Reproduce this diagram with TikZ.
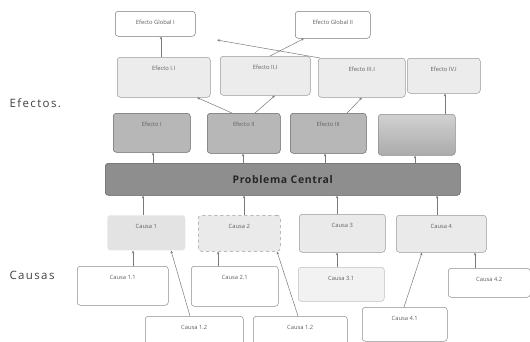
\documentclass[tikz,border=0pt]{standalone}
\usepackage{fontspec}
\setmainfont{Open Sans}
\newfontfamily\spacedfont[LetterSpace=12]{Open Sans}
\usetikzlibrary{arrows.meta,calc}
\definecolor{edgegray}{HTML}{7A7A7A}
\definecolor{txtgray}{HTML}{606060}
\definecolor{topfill}{HTML}{ECECEC}
\definecolor{darkfill}{HTML}{B7B7B7}
\definecolor{pcfill}{HTML}{8E8E8E}
\definecolor{causefill}{HTML}{EAEAEA}
\tikzset{
  box/.style args={#1/#2}{anchor=north west, minimum width=#1pt, minimum height=#2pt,
    inner sep=0pt, rounded corners=3pt, draw=edgegray, line width=0.5pt},
  lbl/.style={label={[anchor=north, yshift=-6pt, font=\fontsize{5.8}{6}\selectfont, text=txtgray]north:{#1}}},
  topbox/.style={fill=white},
  midbox/.style={fill=topfill, draw=gray!80},
  darkbox/.style={fill=darkfill, draw=black!60},
  causebox/.style={fill=causefill, draw=gray!80},
  leafbox/.style={fill=white, draw=gray!90},
  arr/.style={-{Stealth[length=3pt,width=2.4pt]}, draw=edgegray, line width=0.5pt},
  side/.style={font=\spacedfont\fontsize{11.5}{13}\selectfont, text=black!75, anchor=west},
}
\begin{document}
\begin{tikzpicture}[x=1pt,y=-1pt]
\useasboundingbox (0,0) rectangle (530,341);
\fill[white] (0,0) rectangle (530,341);
% side labels
\node[side] (lefe) at (6,103) {Efectos.};
\node[side] (lcau) at (6,275) {Causas};
% global effects
\node[box=80/25, topbox, lbl={Efecto Global I}] (g1) at (115,11) {};
\node[box=75/27, topbox, lbl={Efecto Global II}] (g2) at (295,11) {};
% second row
\node[box=93/40, midbox, lbl={Efecto I.I}] (e11) at (117,57) {};
\node[box=90/39, midbox, lbl={Efecto II.I}] (e21) at (220,56) {};
\node[box=87/39, midbox, lbl={Efecto III.I}] (e31) at (318,58) {};
\node[box=73/35, midbox, lbl={Efecto IV.I}] (e41) at (407,58) {};
% direct effects
\node[box=77/39, darkbox, lbl={Efecto I}] (e1) at (113,113) {};
\node[box=73/40, darkbox, lbl={Efecto II}] (e2) at (207,113) {};
\node[box=76/40, darkbox, lbl={Efecto III}] (e3) at (290,113) {};
\node[box=77/41, draw=black!45, top color=black!18, bottom color=black!33] (e4) at (378,114) {};
% central problem
\node[box=355/32, fill=pcfill, draw=black!65, font=\bfseries\addfontfeatures{LetterSpace=6}\fontsize{10.5}{12}\selectfont, text=black!85] (pc) at (105,163) {Problema Central};
% causes
\node[box=78/35, fill=black!11, draw=none, lbl={Causa 1}] (c1) at (107,215) {};
\node[box=82/36, causebox, dashed, lbl={Causa 2}] (c2) at (198,215) {};
\node[box=86/38, causebox, lbl={Causa 3}] (c3) at (299,214) {};
\node[box=90/37, causebox, lbl={Causa 4}] (c4) at (396,215) {};
% sub-causes
\node[box=91/39, leafbox, lbl={Causa 1.1}] (c11) at (77,266) {};
\node[box=87/40, leafbox, lbl={Causa 2.1}] (c21) at (191,266) {};
\node[box=86/34, fill=black!5, draw=gray!50, lbl={Causa 3.1}] (c31) at (298,267) {};
\node[box=82/29, leafbox, lbl={Causa 4.2}] (c42) at (448,268) {};
\node[box=98/30, leafbox, lbl={Causa 1.2}] (c12) at (145,316) {};
\node[box=94/30, leafbox, lbl={Causa 1.2}] (c22) at (253,316) {};
\node[box=85/34, leafbox, lbl={Causa 4.1}] (c41) at (362,307) {};
\coordinate (p1) at (217,40);
% effect connectors
\draw[arr] ([xshift=44pt]e11.north west) -- ([xshift=46pt]g1.south west);
\draw[arr] ([xshift=2pt]e31.north west) -- (p1);
\draw[arr] ([xshift=50pt]e21.north west) -- ([xshift=9pt]g2.south west);
\draw[arr] ([xshift=25pt]e2.north west) -- ([xshift=80pt]e11.south west);
\draw[arr] ([xshift=48pt]e2.north west) -- ([xshift=55pt]e21.south west);
\draw[arr] ([xshift=57pt]e3.north west) -- ([xshift=44pt]e31.south west);
\draw[arr] ([xshift=67pt]e4.north west) -- ([xshift=38pt]e41.south west);
\draw[arr] ([xshift=48pt]pc.north west) -- ([xshift=40pt]e1.south west);
\draw[arr] ([xshift=138pt]pc.north west) -- ([xshift=36pt]e2.south west);
\draw[arr] ([xshift=220pt]pc.north west) -- ([xshift=35pt]e3.south west);
\draw[arr] ([xshift=310pt]pc.north west) -- ([xshift=37pt]e4.south west);
% cause connectors
\draw[arr] ([xshift=36pt]c1.north west) -- ([xshift=38pt]pc.south west);
\draw[arr] ([xshift=46pt]c2.north west) -- ([xshift=139pt]pc.south west);
\draw[arr] ([xshift=38pt]c3.north west) -- ([xshift=232pt]pc.south west);
\draw[arr] ([xshift=41pt]c4.north west) -- ([xshift=332pt]pc.south west);
\draw[arr] ([xshift=56pt]c11.north west) -- ([xshift=26pt]c1.south west);
\draw[arr] ([xshift=45pt]c12.north west) -- ([xshift=64pt]c1.south west);
\draw[arr] ([xshift=27pt]c21.north west) -- ([xshift=20pt]c2.south west);
\draw[arr] ([xshift=45pt]c22.north west) -- ([xshift=79pt]c2.south west);
\draw[arr] ([xshift=39pt]c31.north west) -- ([xshift=38pt]c3.south west);
\draw[arr] ([xshift=42pt]c41.north west) -- ([xshift=26pt]c4.south west);
\draw[arr] ([xshift=27pt]c42.north west) -- ([xshift=79pt]c4.south west);
\end{tikzpicture}
\end{document}
